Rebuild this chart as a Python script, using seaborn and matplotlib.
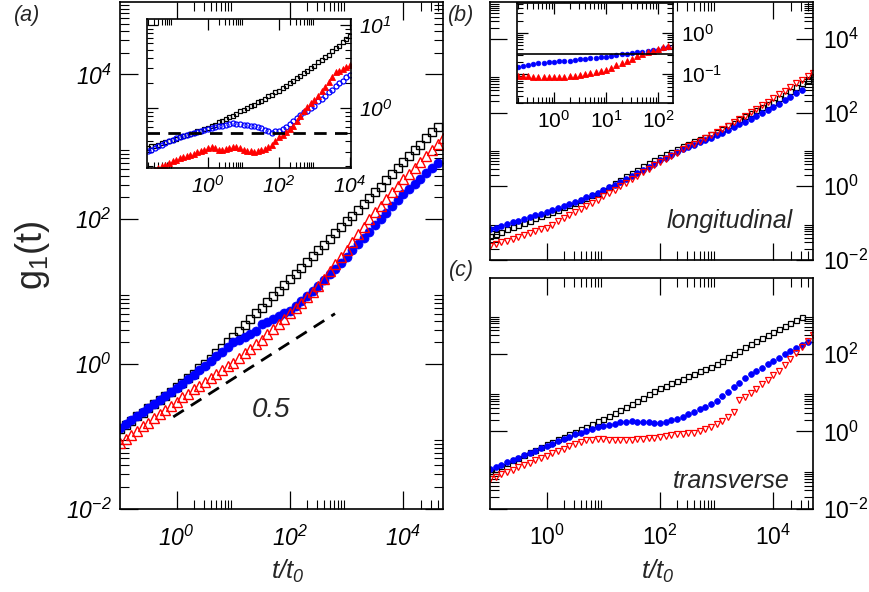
import numpy as np
import matplotlib
matplotlib.use('Agg')
from matplotlib import pyplot as plt
from matplotlib.ticker import FixedLocator, FixedFormatter, NullFormatter
import seaborn as sns

sns.set_theme(style='white')
plt.rcParams['font.family'] = ['Liberation Sans', 'DejaVu Sans']
# rm is italic here (panel a uses italic numbers), sf is the upright face
plt.rcParams['mathtext.fontset'] = 'custom'
plt.rcParams['mathtext.rm'] = 'Liberation Sans:italic'
plt.rcParams['mathtext.it'] = 'Liberation Sans:italic'
plt.rcParams['mathtext.sf'] = 'Liberation Sans'
plt.rcParams['mathtext.bf'] = 'Liberation Sans:bold'

# ---- data, all values are log10 ----
lx_main = [-1.0, -0.9, -0.8, -0.7, -0.6, -0.5, -0.4, -0.3, -0.2, -0.1,
           0.0, 0.1, 0.2, 0.3, 0.4, 0.5, 0.6, 0.7, 0.8, 0.9,
           1.0, 1.1, 1.2, 1.3, 1.4, 1.5, 1.6, 1.7, 1.8, 1.9,
           2.0, 2.1, 2.2, 2.3, 2.4, 2.5, 2.6, 2.7, 2.8, 2.9,
           3.0, 3.1, 3.2, 3.3, 3.4, 3.5, 3.6, 3.7, 3.8, 3.9,
           4.0, 4.1, 4.2, 4.3, 4.4, 4.5, 4.6, 4.7]

# panel (a)
a_black = [-0.90, -0.84, -0.78, -0.72, -0.67, -0.61, -0.55, -0.49, -0.44, -0.38,
           -0.32, -0.26, -0.19, -0.13, -0.06, 0.00, 0.07, 0.15, 0.22, 0.30,
           0.38, 0.46, 0.54, 0.62, 0.70, 0.78, 0.86, 0.94, 1.01, 1.09,
           1.17, 1.25, 1.33, 1.41, 1.49, 1.57, 1.65, 1.73, 1.81, 1.89,
           1.97, 2.05, 2.13, 2.21, 2.29, 2.37, 2.45, 2.54, 2.62, 2.71,
           2.79, 2.87, 2.95, 3.03, 3.12, 3.20, 3.28]
a_blue = [-0.88, -0.82, -0.77, -0.71, -0.66, -0.60, -0.55, -0.49, -0.44, -0.38,
          -0.33, -0.27, -0.21, -0.15, -0.08, -0.02, 0.04, 0.11, 0.17, 0.24,
          0.30, 0.34, 0.38, 0.42, 0.46, 0.56, 0.58, 0.62, 0.66, 0.70,
          0.74, 0.80, 0.87, 0.94, 1.01, 1.08, 1.16, 1.24, 1.32, 1.40,
          1.48, 1.57, 1.66, 1.74, 1.83, 1.92, 2.01, 2.09, 2.18, 2.26,
          2.35, 2.42, 2.49, 2.56, 2.64, 2.71, 2.78]
a_red = [-1.09, -1.03, -0.98, -0.92, -0.86, -0.81, -0.75, -0.69, -0.64, -0.58,
         -0.52, -0.46, -0.41, -0.35, -0.30, -0.24, -0.19, -0.13, -0.08, -0.03,
         0.02, 0.08, 0.15, 0.21, 0.28, 0.34, 0.41, 0.48, 0.56, 0.63,
         0.70, 0.78, 0.85, 0.93, 1.00, 1.08, 1.18, 1.28, 1.38, 1.48,
         1.58, 1.68, 1.79, 1.89, 2.00, 2.10, 2.19, 2.28, 2.37, 2.46,
         2.55, 2.63, 2.71, 2.79, 2.88, 2.96, 3.04, 3.12]
guide_x = [0.87, 620.0]
guide_y = [0.187, 4.98]
guide_text = '0.5'

# inset of (a)
lx_ins_a = [-1.7, -1.6, -1.5, -1.4, -1.3, -1.2, -1.1, -1.0, -0.9, -0.8,
            -0.7, -0.6, -0.5, -0.4, -0.3, -0.2, -0.1, 0.0, 0.1, 0.2,
            0.3, 0.4, 0.5, 0.6, 0.7, 0.8, 0.9, 1.0, 1.1, 1.2,
            1.3, 1.4, 1.5, 1.6, 1.7, 1.8, 1.9, 2.0, 2.1, 2.2,
            2.3, 2.4, 2.5, 2.6, 2.7, 2.8, 2.9, 3.0, 3.1, 3.2,
            3.3, 3.4, 3.5, 3.6, 3.7, 3.8, 3.9, 4.0]
ia_black = [-0.48, -0.46, -0.45, -0.44, -0.42, -0.41, -0.39, -0.38, -0.37, -0.35,
            -0.34, -0.32, -0.31, -0.30, -0.28, -0.27, -0.25, -0.24, -0.22, -0.20,
            -0.17, -0.15, -0.13, -0.11, -0.09, -0.07, -0.04, -0.02, 0.00, 0.02,
            0.04, 0.07, 0.09, 0.11, 0.14, 0.16, 0.19, 0.21, 0.24, 0.27,
            0.30, 0.33, 0.36, 0.39, 0.42, 0.45, 0.48, 0.51, 0.55, 0.58,
            0.61, 0.64, 0.68, 0.72, 0.75, 0.79, 0.83, 0.86]
ia_blue = [-0.52, -0.50, -0.48, -0.46, -0.44, -0.42, -0.40, -0.38, -0.36, -0.345,
           -0.33, -0.32, -0.31, -0.30, -0.29, -0.27, -0.26, -0.25, -0.24, -0.23,
           -0.22, -0.21, -0.20, -0.19, -0.185, -0.19, -0.19, -0.20, -0.20, -0.21,
           -0.22, -0.23, -0.24, -0.26, -0.28, -0.30, -0.28, -0.27, -0.25, -0.23,
           -0.19, -0.15, -0.12, -0.08, -0.05, -0.03, 0.00, 0.03, 0.08, 0.11,
           0.15, 0.19, 0.22, 0.26, 0.30, 0.33, 0.37, 0.40]
ia_red = [-0.78, -0.76, -0.74, -0.72, -0.70, -0.68, -0.66, -0.63, -0.62, -0.60,
          -0.59, -0.58, -0.565, -0.55, -0.53, -0.51, -0.50, -0.48, -0.466, -0.48,
          -0.50, -0.505, -0.49, -0.48, -0.47, -0.466, -0.48, -0.50, -0.51, -0.52,
          -0.525, -0.51, -0.50, -0.49, -0.47, -0.44, -0.40, -0.35, -0.32, -0.29,
          -0.25, -0.22, -0.16, -0.10, -0.04, 0.01, 0.06, 0.10, 0.15, 0.20,
          0.25, 0.31, 0.37, 0.43, 0.45, 0.47, 0.49, 0.52]
ia_level = 0.5

# panel (b) longitudinal
b_black = [-1.35, -1.29, -1.23, -1.17, -1.11, -1.05, -0.99, -0.93, -0.87, -0.81,
           -0.75, -0.69, -0.63, -0.57, -0.51, -0.45, -0.38, -0.31, -0.24, -0.17,
           -0.10, -0.01, 0.08, 0.18, 0.27, 0.36, 0.45, 0.54, 0.62, 0.71,
           0.80, 0.87, 0.94, 1.01, 1.08, 1.15, 1.22, 1.28, 1.35, 1.41,
           1.48, 1.56, 1.65, 1.73, 1.82, 1.90, 1.98, 2.06, 2.14, 2.22,
           2.30, 2.40, 2.49, 2.59, 2.69, 2.79, 2.88, 2.98]
b_blue = [-1.17, -1.12, -1.07, -1.03, -0.98, -0.93, -0.88, -0.84, -0.79, -0.75,
          -0.70, -0.65, -0.59, -0.54, -0.48, -0.43, -0.37, -0.30, -0.24, -0.17,
          -0.11, -0.03, 0.04, 0.12, 0.19, 0.27, 0.36, 0.44, 0.53, 0.61,
          0.70, 0.77, 0.85, 0.92, 1.00, 1.07, 1.13, 1.19, 1.26, 1.32,
          1.38, 1.45, 1.53, 1.60, 1.68, 1.75, 1.83, 1.91, 1.99, 2.07,
          2.15, 2.24, 2.34, 2.43, 2.53, 2.62]
b_red = [-1.62, -1.57, -1.52, -1.48, -1.43, -1.38, -1.33, -1.28, -1.22, -1.17,
         -1.12, -1.04, -0.95, -0.87, -0.78, -0.70, -0.61, -0.53, -0.44, -0.36,
         -0.27, -0.18, -0.09, 0.01, 0.10, 0.19, 0.28, 0.38, 0.47, 0.57,
         0.66, 0.74, 0.83, 0.91, 1.00, 1.08, 1.16, 1.23, 1.31, 1.38,
         1.46, 1.55, 1.64, 1.74, 1.83, 1.92, 2.02, 2.11, 2.21, 2.30,
         2.40, 2.50, 2.59, 2.69, 2.79, 2.89, 2.98, 3.08]

# inset of (b)
lx_ins_b = [-0.7, -0.6, -0.5, -0.4, -0.3, -0.2, -0.1, 0.0, 0.1, 0.2,
            0.3, 0.4, 0.5, 0.6, 0.7, 0.8, 0.9, 1.0, 1.1, 1.2,
            1.3, 1.4, 1.5, 1.6, 1.7, 1.8, 1.9, 2.0, 2.1, 2.2, 2.3]
ib_blue = [-0.82, -0.79, -0.77, -0.75, -0.74, -0.72, -0.71, -0.70, -0.69, -0.68,
           -0.67, -0.65, -0.63, -0.62, -0.61, -0.60, -0.59, -0.58, -0.56, -0.54,
           -0.52, -0.50, -0.48, -0.47, -0.45, -0.43, -0.42, -0.40, -0.37, -0.34, -0.32]
ib_red = [-1.05, -1.04, -1.05, -1.06, -1.07, -1.08, -1.08, -1.08, -1.07, -1.06,
          -1.05, -1.04, -1.02, -1.00, -0.98, -0.95, -0.92, -0.89, -0.84, -0.78,
          -0.73, -0.67, -0.62, -0.57, -0.52, -0.46, -0.43, -0.39, -0.35, -0.31, -0.28]
ib_level = 0.31

# panel (c) transverse
c_black = [-1.03, -0.96, -0.89, -0.82, -0.75, -0.68, -0.61, -0.54, -0.47, -0.40,
           -0.33, -0.27, -0.20, -0.14, -0.08, -0.01, 0.05, 0.12, 0.18, 0.26,
           0.33, 0.40, 0.48, 0.55, 0.63, 0.70, 0.78, 0.86, 0.95, 1.03,
           1.11, 1.18, 1.24, 1.30, 1.36, 1.42, 1.48, 1.55, 1.61, 1.67,
           1.74, 1.82, 1.91, 1.99, 2.07, 2.16, 2.24, 2.33, 2.41, 2.49,
           2.57, 2.64, 2.71, 2.79, 2.86, 2.94]
c_blue = [-0.98, -0.92, -0.86, -0.80, -0.74, -0.68, -0.62, -0.56, -0.50, -0.44,
          -0.38, -0.32, -0.26, -0.20, -0.14, -0.08, -0.03, 0.02, 0.06, 0.10,
          0.14, 0.17, 0.20, 0.23, 0.25, 0.26, 0.25, 0.24, 0.23, 0.22,
          0.22, 0.24, 0.28, 0.32, 0.38, 0.44, 0.51, 0.57, 0.64, 0.70,
          0.78, 0.90, 1.02, 1.13, 1.25, 1.37, 1.47, 1.56, 1.64, 1.73,
          1.82, 1.90, 1.99, 2.07, 2.15, 2.23, 2.31]
c_red = [-1.23, -1.17, -1.11, -1.05, -0.99, -0.93, -0.87, -0.81, -0.75, -0.69,
         -0.63, -0.57, -0.51, -0.45, -0.39, -0.33, -0.27, -0.23, -0.21, -0.20,
         -0.20, -0.21, -0.21, -0.21, -0.21, -0.21, -0.20, -0.19, -0.18, -0.16,
         -0.14, -0.12, -0.10, -0.08, -0.06, -0.04, -0.03, 0.02, 0.07, 0.12,
         0.19, 0.27, 0.36, 0.50, 0.80, 0.88, 0.98, 1.10, 1.21, 1.33,
         1.44, 1.56, 1.71, 1.86, 2.02, 2.17, 2.33, 2.49]

BLACK = 'black'
BLUE = '#0000ff'
RED = '#ff0000'


def draw(ax, lx, ly, marker, color, ms, filled, mew=1.0):
    x = 10 ** np.asarray(lx[:len(ly)])
    y = 10 ** np.asarray(ly)
    sns.lineplot(x=x, y=y, ax=ax, marker=marker, linestyle='none', color=color,
                 markersize=ms, markerfacecolor=color if filled else 'none',
                 markeredgecolor=color, markeredgewidth=mew, sort=False,
                 estimator=None, legend=False)


def minors(exps):
    return [k * 10.0 ** e for e in exps for k in range(2, 10)]


def style(ax, xlim, ylim, xmaj, xexp, xmin, ymaj, yexp, ymin, italic, yright,
          size, maj_len, min_len, xpad, ypad, xlabels=True):
    ax.set_xscale('log')
    ax.set_yscale('log')
    ax.set_xlim(xlim)
    ax.set_ylim(ylim)
    if italic:
        lab = lambda s: r'$10^{%s}$' % s
    else:
        lab = lambda s: r'$\mathsf{10^{%s}}$' % s
    ax.xaxis.set_major_locator(FixedLocator(xmaj))
    ax.xaxis.set_major_formatter(FixedFormatter([lab(s) for s in xexp]))
    ax.xaxis.set_minor_locator(FixedLocator(xmin))
    ax.xaxis.set_minor_formatter(NullFormatter())
    ax.yaxis.set_major_locator(FixedLocator(ymaj))
    ax.yaxis.set_major_formatter(FixedFormatter([lab(s) for s in yexp]))
    ax.yaxis.set_minor_locator(FixedLocator(ymin))
    ax.yaxis.set_minor_formatter(NullFormatter())
    ax.tick_params(which='both', direction='in', top=True, bottom=True,
                   left=True, right=True, colors='black', labelsize=size)
    ax.tick_params(which='major', length=maj_len, width=0.9)
    ax.tick_params(which='minor', length=min_len, width=0.8)
    ax.tick_params(axis='x', which='major', pad=xpad, labelbottom=xlabels)
    ax.tick_params(axis='y', which='major', pad=ypad,
                   labelleft=not yright, labelright=yright)
    for sp in ax.spines.values():
        sp.set_color('black')
        sp.set_linewidth(1.2)
    ax.set_xlabel('')
    ax.set_ylabel('')


fig = plt.figure(figsize=(8.7, 5.92), dpi=100)
W, H = 870.0, 592.0


def box(l, t, r, b):
    return [l / W, 1 - b / H, (r - l) / W, (b - t) / H]


ax_a = fig.add_axes(box(120, 2, 443, 509))
ax_b = fig.add_axes(box(490, 2, 813, 260))
ax_c = fig.add_axes(box(490, 278, 813, 509))
ins_a = fig.add_axes(box(147, 19, 351, 168))
ins_b = fig.add_axes(box(517, 3, 673, 103))

# (a)
draw(ax_a, lx_main, a_black, 's', BLACK, 6.0, False)
draw(ax_a, lx_main, a_blue, 'o', BLUE, 6.5, True, 0.5)
draw(ax_a, lx_main, a_red, '^', RED, 6.5, False)
sns.lineplot(x=guide_x, y=guide_y, ax=ax_a, color='black', linewidth=2.0,
             linestyle=(0, (4.5, 3)), legend=False)
ax_a.text(46, 0.23, guide_text, fontsize=20, style='italic', ha='center', va='center')
style(ax_a, (0.1, 10 ** 4.697), (0.01, 1e5), [1, 1e2, 1e4], ['0', '2', '4'],
      minors([0, 2, 4]), [1e-2, 1, 1e2, 1e4], ['-2', '0', '2', '4'],
      minors([-2, 0, 2, 4]), True, False, 16.5, 13, 6.5, 12, 6)

# inset (a)
draw(ins_a, lx_ins_a, ia_black, 's', BLACK, 3.2, False, 0.9)
draw(ins_a, lx_ins_a, ia_blue, 'o', BLUE, 3.6, False, 0.9)
draw(ins_a, lx_ins_a, ia_red, '^', RED, 3.8, True, 0.6)
ins_a.axhline(ia_level, color='black', linewidth=2.0, linestyle=(0, (4.5, 3)))
style(ins_a, (10 ** -1.72, 10 ** 4.03), (10 ** -0.72, 10 ** 1.07), [1, 1e2, 1e4],
      ['0', '2', '4'], minors([-2, 0, 2]), [1, 10], ['0', '1'], minors([-1, 0]),
      True, True, 15, 8, 4.5, 5, 6)
ins_a.set_facecolor('white')

# (b)
draw(ax_b, lx_main, b_black, 's', BLACK, 3.6, False, 0.9)
draw(ax_b, lx_main, b_blue, 'o', BLUE, 4.2, True, 0.5)
draw(ax_b, lx_main, b_red, 'v', RED, 4.6, False, 0.9)
style(ax_b, (0.1, 10 ** 4.697), (0.01, 1e5), [1, 1e2, 1e4], ['0', '2', '4'],
      minors([0, 2, 4]), [1e-2, 1, 1e2, 1e4], ['-2', '0', '2', '4'],
      minors([-2, 0, 2, 4]), False, True, 16.5, 12.5, 6.5, 9, 7, xlabels=False)

# inset (b)
draw(ins_b, lx_ins_b, ib_blue, 'o', BLUE, 3.4, True, 0.5)
draw(ins_b, lx_ins_b, ib_red, '^', RED, 3.8, True, 0.6)
ins_b.axhline(ib_level, color='black', linewidth=1.2)
style(ins_b, (10 ** -0.71, 10 ** 2.29), (10 ** -1.70, 10 ** 0.73), [1, 10, 100],
      ['0', '1', '2'], minors([-1, 0, 1]), [0.1, 1], ['-1', '0'],
      minors([-2, -1, 0]), False, True, 15, 8, 4.5, 5, 6)
ins_b.set_facecolor('white')

# (c)
draw(ax_c, lx_main, c_black, 's', BLACK, 3.6, False, 0.9)
draw(ax_c, lx_main, c_blue, 'o', BLUE, 4.2, True, 0.5)
draw(ax_c, lx_main, c_red, 'v', RED, 4.6, False, 0.9)
style(ax_c, (0.1, 10 ** 4.697), (0.01, 10 ** 3.95), [1, 1e2, 1e4], ['0', '2', '4'],
      minors([0, 2, 4]), [1e-2, 1, 1e2], ['-2', '0', '2'],
      minors([-2, 0, 2]), False, True, 16.5, 12.5, 6.5, 11, 7)


# labels and annotations in figure pixels
def ftext(x, y, s, **kw):
    fig.text(x / W, 1 - y / H, s, **kw)


ftext(27, 16, '(a)', fontsize=15.5, style='italic', ha='center', va='center')
ftext(461, 16, '(b)', fontsize=15.5, style='italic', ha='center', va='center')
ftext(461, 270, '(c)', fontsize=15.5, style='italic', ha='center', va='center')
ftext(33, 255, r'g$_\mathsf{1}$(t)', fontsize=26, rotation=90, ha='center', va='center')
ftext(288, 571, r'$t/t_{0}$', fontsize=18.5, ha='center', va='center')
ftext(658, 571, r'$t/t_{0}$', fontsize=18.5, ha='center', va='center')
ftext(793, 221, 'longitudinal', fontsize=18, style='italic', ha='right', va='center')
ftext(790, 481, 'transverse', fontsize=18, style='italic', ha='right', va='center')

fig.savefig('out.png', dpi=100)
